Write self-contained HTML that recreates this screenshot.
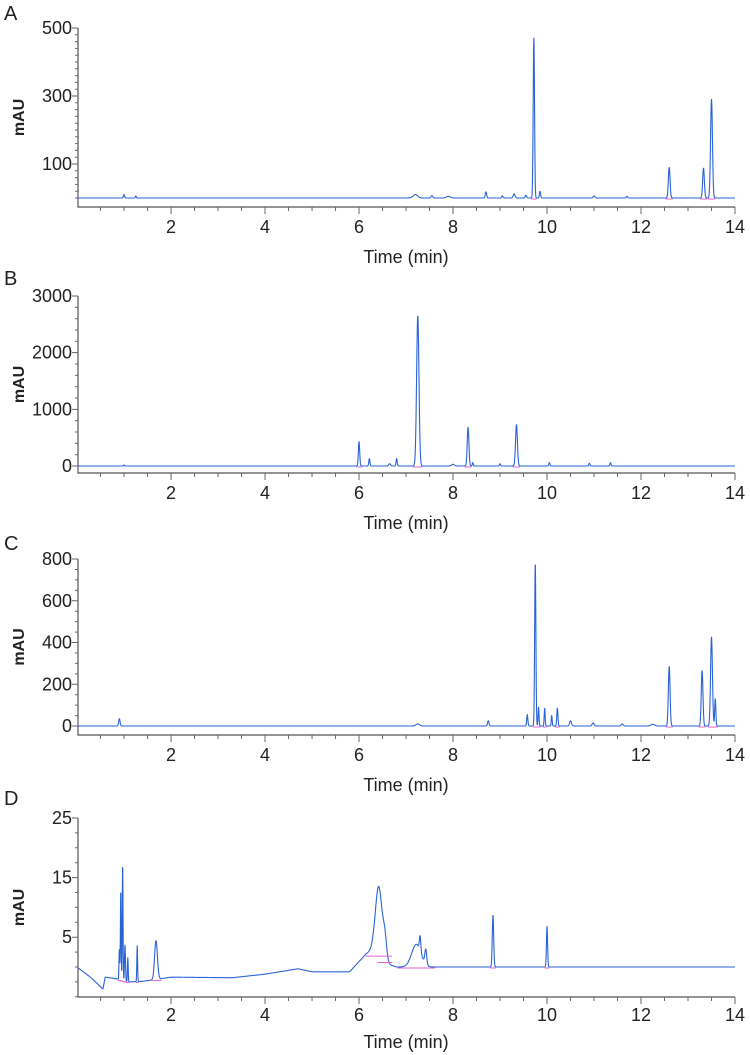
<!DOCTYPE html>
<html><head><meta charset="utf-8"><style>
html,body{margin:0;padding:0;background:#fff;}
svg{display:block;font-family:"Liberation Sans",Arial,sans-serif;}
</style></head><body>
<svg id="fig" width="750" height="1055" viewBox="0 0 750 1055"></svg>
<script>
// Panel A peaks
const aTimes=[1.0,1.25,7.2,7.55,7.9,8.7,9.05,9.3,9.55,9.72,9.85,11.0,11.7,12.6,13.33,13.5];
const aHeights=[10,6,10,7,5,18,6,12,8,470,20,6,5,90,88,290];
const aWidths=[0.012,0.01,0.05,0.02,0.04,0.015,0.015,0.02,0.015,0.014,0.012,0.02,0.015,0.018,0.018,0.02];
// Panel B peaks
const bTimes=[1.0,6.0,6.22,6.65,6.8,7.25,8.0,8.32,8.42,9.0,9.35,10.05,10.9,11.35];
const bHeights=[20,430,130,40,130,2650,30,680,60,40,730,60,50,60];
const bWidths=[0.01,0.014,0.012,0.02,0.012,0.025,0.03,0.018,0.01,0.012,0.02,0.012,0.012,0.012];
// Panel C peaks
const cTimes=[0.9,7.25,8.75,9.58,9.75,9.82,9.95,10.1,10.22,10.5,10.98,11.6,12.25,12.6,13.3,13.5,13.58];
const cHeights=[35,10,25,55,780,90,85,50,85,25,15,10,8,285,265,425,130];
const cWidths=[0.015,0.04,0.015,0.012,0.013,0.01,0.01,0.01,0.012,0.02,0.02,0.02,0.04,0.018,0.018,0.02,0.012];
// Panel D baseline knots and peaks
const dBaseT=[0,0.3,0.55,0.6,0.85,1.1,1.4,2.0,3.3,4.0,4.7,5.0,5.8,6.15,6.3,6.6,6.8,7.0,8.0,14.0];
const dBaseV=[0,-1.8,-3.7,-1.7,-2.0,-2.5,-2.4,-1.7,-1.8,-1.2,-0.3,-0.8,-0.8,2.2,3.0,0.5,0,0,0,0];
const dTimes=[0.9,0.93,0.97,1.02,1.08,1.28,1.68,6.42,6.55,7.22,7.3,7.42,8.85,10.0];
const dHeights=[5,15,19.5,6,4,6,6.5,11.5,3.5,3.8,2.5,2.5,8.7,6.8];
const dWidths=[0.008,0.008,0.008,0.01,0.008,0.008,0.03,0.07,0.04,0.1,0.015,0.02,0.015,0.012];

const xTicks=[2,4,6,8,10,12,14];
const panels=[
 {id:'a',letter:'A',ly:20,top:28,zero:198,axis:207,max:500,yLabels:[100,300,500],minor:20,T:aTimes,H:aHeights,W:aWidths,toff:56},
 {id:'b',letter:'B',ly:285,top:296,zero:466,axis:473,max:3000,yLabels:[0,1000,2000,3000],minor:200,T:bTimes,H:bHeights,W:bWidths,toff:56},
 {id:'c',letter:'C',ly:550,top:559,zero:726,axis:735,max:800,yLabels:[0,200,400,600,800],minor:50,T:cTimes,H:cHeights,W:cWidths,toff:56},
 {id:'d',letter:'D',ly:805,top:818,zero:967,axis:997,max:25,yLabels:[5,15,25],minor:2.5,T:dTimes,H:dHeights,W:dWidths,base:true,toff:51}
];
const NS='http://www.w3.org/2000/svg';
const svg=document.getElementById('fig');
const X0=78,X1=735,TMAX=14;
function xs(t){return X0+(t-0.02)/(TMAX-0.02)*(X1-X0);}
function mk(tag,attrs,parent){const e=document.createElementNS(NS,tag);for(const k in attrs)e.setAttribute(k,attrs[k]);(parent||svg).appendChild(e);return e;}
function baseD(t){for(let i=0;i<dBaseT.length-1;i++){if(t>=dBaseT[i]&&t<=dBaseT[i+1]){const f=(t-dBaseT[i])/(dBaseT[i+1]-dBaseT[i]);return dBaseV[i]+f*(dBaseV[i+1]-dBaseV[i]);}}return 0;}
panels.forEach(p=>{
 const g=mk('g',{});
 
 
 const ys=v=>p.zero-v/p.max*(p.zero-p.top);
 const L=mk('text',{x:4,y:p.ly,'font-size':20,fill:'#222'},g);L.textContent=p.letter;
 
 
 const ax=mk('path',{d:`M${X0},${p.top}V${p.axis}H${X1}`,stroke:'#555',fill:'none','stroke-width':1.2},g);
 
 
 let tk='';
 for(let v=Math.ceil((p.id==='d'?-5:0)/p.minor)*p.minor;v<=p.max+1e-9;v+=p.minor){const y=ys(v);if(y>p.axis)continue;tk+=`M${X0-3},${y}H${X0}`;}
 p.yLabels.forEach(v=>{tk+=`M${X0-6},${ys(v)}H${X0}`;});
 for(let t=0.5;t<=14.001;t+=0.5){const x=xs(t);const maj=Math.abs(t-Math.round(t/2)*2)<1e-6;tk+=`M${x},${p.axis}V${p.axis+(maj?7:4)}`;}
 const tp=mk('path',{d:tk,stroke:'#666','stroke-width':1,fill:'none'},g);
 
 
 p.yLabels.forEach(v=>{const t=mk('text',{x:X0-6,y:ys(v)+6,'font-size':18,'text-anchor':'end',fill:'#222'},g);t.textContent=v;
  
  });
 xTicks.forEach(v=>{const t=mk('text',{x:xs(v),y:p.axis+(p.id==='d'?24:26),'font-size':18,'text-anchor':'middle',fill:'#222'},g);t.textContent=v;
  
  });
 const xt=mk('text',{x:406,y:p.axis+p.toff,'font-size':18,'text-anchor':'middle',fill:'#222'},g);xt.textContent='Time (min)';
 
 
 const cy=(p.top+p.axis)/2;
 const yt=mk('text',{x:0,y:0,'font-size':16,'font-weight':'bold','text-anchor':'middle',fill:'#222',transform:`translate(24,${cy}) rotate(-90)`},g);yt.textContent='mAU';
 
 
 let d='';
 for(let t=0.02;t<=14.0001;t+=0.004){
  let v=p.base?baseD(t):0;
  for(let i=0;i<p.T.length;i++){const z=(t-p.T[i])/p.W[i];if(Math.abs(z)<6)v+=p.H[i]*Math.exp(-0.5*z*z);}
  d+=(d?'L':'M')+xs(t).toFixed(2)+','+ys(v).toFixed(2);
 }
 const tr=mk('path',{d:d,stroke:'#2a63d8',fill:'none','stroke-width':1.1,'stroke-linejoin':'round'},g);
 
 
 let m='';
 p.T.forEach((t,i)=>{if(p.H[i]>p.max*0.1){const b=p.base?baseD(t):0;const y=ys(b)+1;m+=`M${xs(t-4*p.W[i])},${y}H${xs(t+4*p.W[i])}`;}});
 const mg=mk('path',{d:m,stroke:'#e060d0',fill:'none','stroke-width':1},g);
 
 
});
</script>
</body></html>
